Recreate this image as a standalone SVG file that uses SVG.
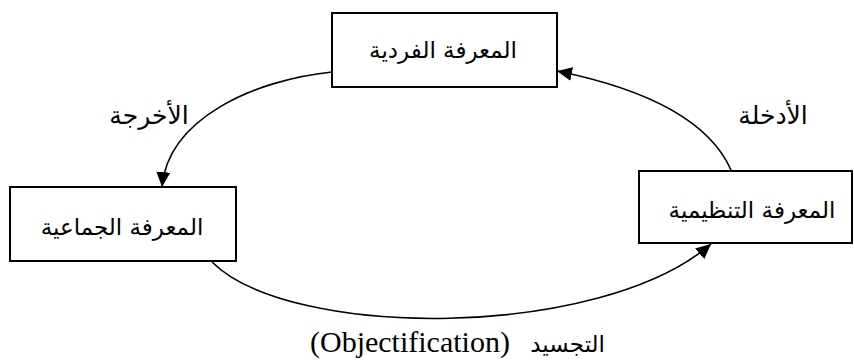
<svg xmlns="http://www.w3.org/2000/svg" width="854" height="360" viewBox="0 0 854 360">
  <style>
    .box { fill: #ffffff; stroke: #000000; stroke-width: 2; }
    .lbl { font-family: "DejaVu Sans", "Noto Sans", sans-serif; font-size: 23px; fill: #000000; text-anchor: middle; }
    .edge-lbl { font-size: 25px; }
    .edge { fill: none; stroke: #000000; stroke-width: 1.6; }
  </style>
  <defs>
    <marker id="arrow" markerUnits="userSpaceOnUse" markerWidth="16" markerHeight="14" refX="15" refY="7" orient="auto">
      <path d="M0,0 L15,7 L0,14 z" fill="#000000"/>
    </marker>
  </defs>

  <rect width="854" height="360" fill="#ffffff"/>

  <!-- connectors -->
  <g id="connectors">
    <path class="edge" d="M332,72 C255,80 168,118 162,187" marker-end="url(#arrow)"/>
    <path class="edge" d="M731,170 Q700,100 557,71" marker-end="url(#arrow)"/>
    <path class="edge" d="M212,262 C290,340 600,340 711,244" marker-end="url(#arrow)"/>
    <text class="lbl edge-lbl" x="149" y="124">الأخرجة</text>
    <text class="lbl edge-lbl" x="773" y="124">الأدخلة</text>
    <text y="352" fill="#000000">
      <tspan x="310" text-anchor="start" font-family="Liberation Serif, serif" font-size="30">(Objectification)</tspan>
      <tspan x="605" text-anchor="end" font-family="DejaVu Sans, sans-serif" font-size="23">التجسيد</tspan>
    </text>
  </g>

  <!-- individual knowledge -->
  <g id="node-individual">
    <rect class="box" x="332" y="13" width="225" height="74"/>
    <text class="lbl" x="443" y="58">المعرفة الفردية</text>
  </g>

  <!-- collective knowledge -->
  <g id="node-collective">
    <rect class="box" x="10" y="187" width="226" height="74"/>
    <text class="lbl" x="122" y="235">المعرفة الجماعية</text>
  </g>

  <!-- organisational knowledge -->
  <g id="node-organisational">
    <rect class="box" x="639" y="171" width="213" height="72"/>
    <text class="lbl" x="752" y="218">المعرفة التنظيمية</text>
  </g>
</svg>
